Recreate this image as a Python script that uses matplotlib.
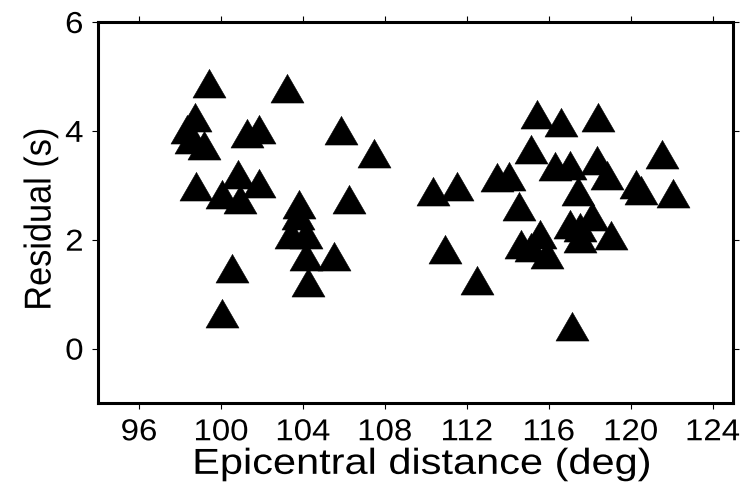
import matplotlib
matplotlib.use("Agg")
import matplotlib.pyplot as plt
from matplotlib.patheffects import AbstractPathEffect
from matplotlib.transforms import Affine2D

plt.rcParams['font.family'] = ['Liberation Sans', 'DejaVu Sans']

# Epicentral distance (deg) and residual (s)
distance = [
    99.43, 103.21, 98.74, 98.35, 98.56, 99.16, 101.26, 101.86, 100.85, 98.77,
    101.86, 100.05, 100.95, 103.83, 103.78, 103.44, 104.16, 104.14, 105.52, 104.27,
    100.53, 100.07, 105.85, 107.46, 106.26,
    115.45, 116.62, 118.43, 115.13, 116.33, 117.05, 118.38, 118.84, 121.55, 120.28,
    120.53, 122.09, 113.48, 114.05, 110.34, 111.54, 114.54, 117.42, 110.96, 112.49,
    114.64, 115.60, 115.14, 115.90, 117.06, 117.53, 117.55, 118.10, 119.02, 117.13,
]
residual = [
    4.79, 4.70, 4.17, 3.95, 3.75, 3.64, 3.86, 3.95, 3.12, 2.89,
    2.95, 2.75, 2.65, 2.57, 2.37, 2.02, 2.02, 1.61, 1.61, 1.13,
    1.39, 0.56, 3.92, 3.50, 2.66,
    4.21, 4.07, 4.17, 3.57, 3.26, 3.29, 3.38, 3.09, 3.48, 2.94,
    2.83, 2.76, 3.06, 3.08, 2.80, 2.89, 2.53, 2.81, 1.74, 1.16,
    1.83, 2.02, 1.77, 1.64, 2.20, 2.14, 1.94, 2.35, 1.99, 0.32,
]
x_ticks = [96, 100, 104, 108, 112, 116, 120, 124]
y_ticks = [0, 2, 4, 6]


class Stretch(AbstractPathEffect):
    """Stretch glyphs about the text centre (sx along text, sy across)."""
    def __init__(self, sx=1.0, sy=1.0):
        super().__init__()
        self.sx, self.sy = sx, sy

    def draw_path(self, renderer, gc, tpath, affine, rgbFace=None):
        ext = tpath.get_extents()
        cx = (ext.x0 + ext.x1) / 2
        cy = (ext.y0 + ext.y1) / 2
        t = Affine2D().translate(-cx, -cy).scale(self.sx, self.sy).translate(cx, cy)
        renderer.draw_path(gc, tpath, t + affine, rgbFace)


SX = 1.09

fig = plt.figure(figsize=(7.48, 4.94), dpi=100)
ax = fig.add_axes([98 / 748, 1 - 403 / 494, (733 - 98) / 748, (403 - 22) / 494])

tri = [(0, 1), (-0.866, -0.5), (0.866, -0.5), (0, 1)]
ax.plot(distance, residual, linestyle='none', marker=tri, markersize=27.4,
        markerfacecolor='black', markeredgecolor='black', markeredgewidth=0.4,
        clip_on=False)

ax.set_xlim(94, 125)
ax.set_ylim(-1, 6)
ax.set_xticks(x_ticks)
ax.set_yticks(y_ticks)
ax.tick_params(direction='out', top=True, right=True, length=4, width=0.8,
               labelsize=21.8, pad=7, colors='black')
for lab in ax.get_xticklabels() + ax.get_yticklabels():
    lab.set_path_effects([Stretch(SX, 1.0)])
for s in ax.spines.values():
    s.set_linewidth(2.2)
    s.set_color('black')
xl = ax.set_xlabel('Epicentral distance (deg)', fontsize=26)
xl.set_path_effects([Stretch(1.15, 1.0)])
ax.xaxis.set_label_coords(0.5 + 6 / 635, -0.115)
yl = ax.set_ylabel('Residual (s)', fontsize=24.7)
yl.set_path_effects([Stretch(1.0, SX)])
ax.yaxis.set_label_coords(-0.065, 0.5 - 7 / 381)

fig.savefig('out.png', dpi=100)
